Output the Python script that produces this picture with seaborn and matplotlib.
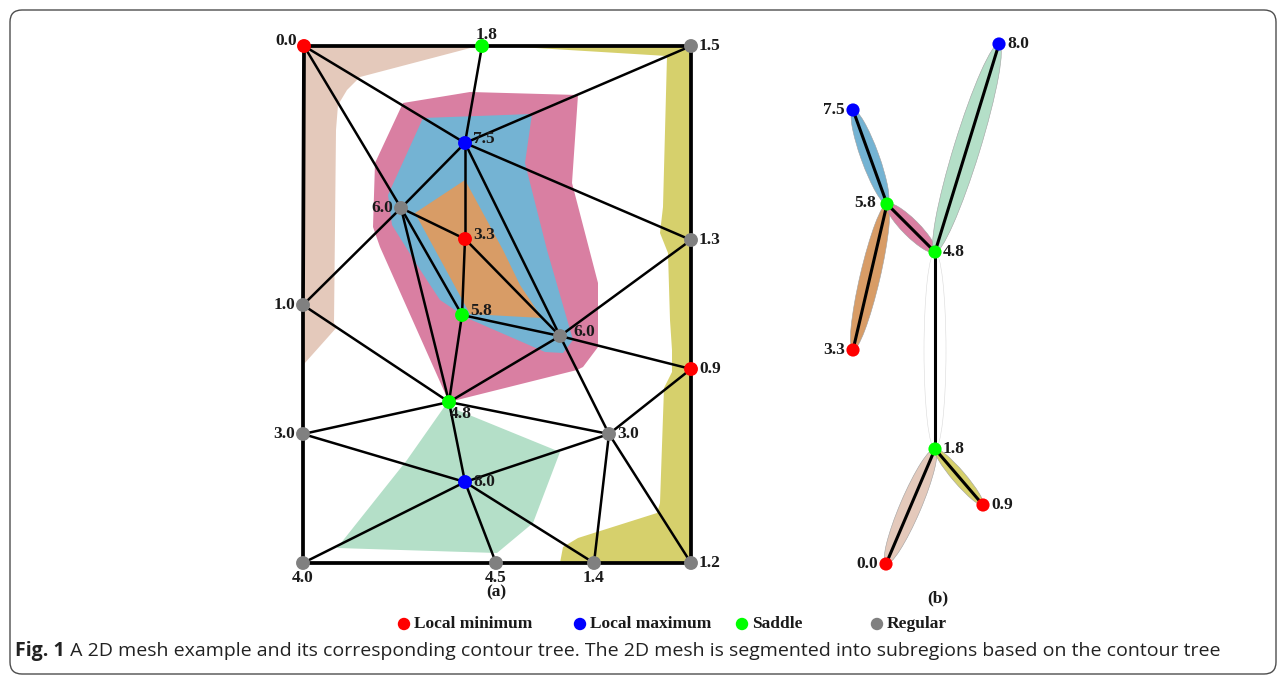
import matplotlib
matplotlib.use("Agg")
import matplotlib.pyplot as plt
import numpy as np
import pandas as pd
import seaborn as sns
from matplotlib.patches import Polygon, Ellipse, FancyBboxPatch
from matplotlib.collections import LineCollection

# ---------------- mesh (a): vertices ----------------
mesh_ids = ["A", "B", "C", "D", "E", "F", "G", "H", "I", "J",
            "K", "L", "M", "N", "O", "P", "Q", "R", "S"]
mesh_x = [304, 482, 691, 465, 401, 465, 691, 303, 462, 560,
          691, 449, 303, 609, 465, 303, 496, 594, 691]
mesh_y = [46, 46, 46, 143, 208, 239, 240, 305, 315, 336,
          369, 402, 434, 434, 482, 563, 563, 563, 563]
mesh_val = [0.0, 1.8, 1.5, 7.5, 6.0, 3.3, 1.3, 1.0, 5.8, 6.0,
            0.9, 4.8, 3.0, 3.0, 8.0, 4.0, 4.5, 1.4, 1.2]
mesh_kind = ["Local minimum", "Saddle", "Regular", "Local maximum", "Regular",
             "Local minimum", "Regular", "Regular", "Saddle", "Regular",
             "Local minimum", "Saddle", "Regular", "Regular", "Local maximum",
             "Regular", "Regular", "Regular", "Regular"]

# mesh edges
boundary_edges = [("A", "B"), ("B", "C"), ("C", "G"), ("G", "K"), ("K", "S"),
                  ("S", "R"), ("R", "Q"), ("Q", "P"), ("P", "M"), ("M", "H"),
                  ("H", "A")]
interior_edges = [("A", "D"), ("A", "E"), ("B", "D"), ("C", "D"), ("D", "E"),
                  ("D", "F"), ("D", "J"), ("D", "G"), ("E", "F"), ("E", "H"),
                  ("E", "I"), ("E", "L"), ("F", "I"), ("F", "J"), ("I", "J"),
                  ("I", "L"), ("H", "L"), ("J", "L"), ("J", "G"), ("J", "K"),
                  ("J", "N"), ("L", "M"), ("L", "N"), ("L", "O"), ("M", "O"),
                  ("N", "O"), ("O", "P"), ("O", "Q"), ("O", "R"), ("N", "R"),
                  ("N", "S"), ("N", "K")]

# segmented subregions of the mesh
beige_x = [304, 478, 360, 347, 338, 336, 334, 337, 304]
beige_y = [46, 46, 77, 90, 105, 130, 323, 327, 364]
yellow_x = [503, 691, 691, 560, 563, 578, 657, 660, 664, 672, 672, 670, 668, 660, 663, 667]
yellow_y = [46, 46, 563, 563, 547, 538, 513, 503, 388, 372, 350, 320, 253, 233, 207, 56]
pink_x = [403, 470, 578, 572, 598, 598, 583, 577, 449, 380, 373, 375]
pink_y = [103, 92, 95, 183, 283, 347, 367, 370, 402, 247, 227, 163]
blue_x = [423, 532, 525, 547, 573, 563, 545, 467, 440, 417, 392, 388]
blue_y = [118, 114, 163, 250, 340, 353, 352, 318, 300, 265, 225, 195]
orange_x = [465, 503, 520, 542, 470, 415]
orange_y = [180, 250, 285, 318, 314, 213]
green_x = [447, 457, 560, 533, 497, 337, 407]
green_y = [403, 410, 452, 523, 553, 548, 460]

# ---------------- contour tree (b) ----------------
tree_x = [999, 853, 887, 935, 853, 935, 983, 886]
tree_y = [44, 110, 204, 252, 350, 449, 505, 564]
tree_val = [8.0, 7.5, 5.8, 4.8, 3.3, 1.8, 0.9, 0.0]
tree_kind = ["Local maximum", "Local maximum", "Saddle", "Saddle",
             "Local minimum", "Saddle", "Local minimum", "Local minimum"]
tree_arcs = [(7.5, 5.8, "blue"), (5.8, 3.3, "orange"), (5.8, 4.8, "pink"),
             (4.8, 8.0, "green"), (4.8, 1.8, "none"), (1.8, 0.0, "beige"),
             (1.8, 0.9, "yellow")]

legend_labels = ["Local minimum", "Local maximum", "Saddle", "Regular"]

# ---------------- styling ----------------
palette = {"Local minimum": "#ff0000", "Local maximum": "#0000ff",
           "Saddle": "#00ff00", "Regular": "#808080"}
region_colors = {"beige": "#e4c9bb", "yellow": "#d6d06c", "pink": "#d97fa2",
                 "blue": "#74b3d3", "orange": "#d89c66", "green": "#b4dfc8",
                 "none": "#ffffff"}
arc_thickness = {"blue": 18, "orange": 20, "pink": 17, "green": 26,
                 "none": 22, "beige": 21, "yellow": 13}
label_side_mesh = ["lu", "a", "r", "ru", "l", "ru", "r", "l", "ru", "rf",
                   "r", "br", "l", "r", "r", "b", "b", "b", "r"]
label_side_tree = ["r", "l", "l2", "r", "l", "r", "r", "l"]
side_offset = {"l": (-8, 0, "right"), "l2": (-11, 1, "right"), "lu": (-7, 5, "right"),
               "r": (8, 0, "left"), "ru": (8, 4, "left"), "rf": (13, 4, "left"),
               "a": (5, 11, "center"), "b": (0, -15, "center"), "br": (1, -12, "left")}

sns.set_theme(style="white")
plt.rcParams["font.family"] = ["Liberation Serif", "DejaVu Serif"]

fig = plt.figure(figsize=(12.84, 6.78), dpi=100)
ax = fig.add_axes([0, 0, 1, 1])

# subregion fills
for px, py, key in [(beige_x, beige_y, "beige"), (yellow_x, yellow_y, "yellow"),
                    (pink_x, pink_y, "pink"), (blue_x, blue_y, "blue"),
                    (orange_x, orange_y, "orange"), (green_x, green_y, "green")]:
    ax.add_patch(Polygon(np.column_stack([px, py]), closed=True,
                         facecolor=region_colors[key], edgecolor="none", zorder=1))

mesh = pd.DataFrame({"id": mesh_ids, "x": mesh_x, "y": mesh_y,
                     "val": mesh_val, "kind": mesh_kind}).set_index("id")

def segs(edges):
    return [[(mesh.loc[a, "x"], mesh.loc[a, "y"]), (mesh.loc[b, "x"], mesh.loc[b, "y"])]
            for a, b in edges]

ax.add_collection(LineCollection(segs(interior_edges), colors="black",
                                 linewidths=1.8, zorder=2))
ax.add_collection(LineCollection(segs(boundary_edges), colors="black",
                                 linewidths=2.7, zorder=2, capstyle="projecting"))

sns.scatterplot(data=mesh.reset_index(), x="x", y="y", hue="kind", palette=palette,
                s=100, edgecolor="none", legend=False, ax=ax, zorder=4)

label_font = dict(fontsize=12.5, fontweight="bold", color="#1a1a1a")
for (x, y, v, side) in zip(mesh_x, mesh_y, mesh_val, label_side_mesh):
    dx, dy, ha = side_offset[side]
    ax.annotate(f"{v:.1f}", (x, y), xytext=(dx, dy), textcoords="offset pixels",
                ha=ha, va="center", zorder=5, **label_font)

# contour tree arcs with their subregion envelopes
tree = pd.DataFrame({"x": tree_x, "y": tree_y, "val": tree_val, "kind": tree_kind})
tpos = {v: (x, y) for v, x, y in zip(tree_val, tree_x, tree_y)}
for a, b, key in tree_arcs:
    (x0, y0), (x1, y1) = tpos[a], tpos[b]
    length = np.hypot(x1 - x0, y1 - y0)
    ang = np.degrees(np.arctan2(y1 - y0, x1 - x0))
    edge = "#d9d9d9" if key == "none" else "#a0a0a0"
    ax.add_patch(Ellipse(((x0 + x1) / 2, (y0 + y1) / 2), length, arc_thickness[key],
                         angle=ang, facecolor=region_colors[key], edgecolor=edge,
                         linewidth=0.4, zorder=1))
    ax.plot([x0, x1], [y0, y1], color="black", lw=2.2, zorder=2,
            solid_capstyle="round")

sns.scatterplot(data=tree, x="x", y="y", hue="kind", palette=palette,
                s=90, edgecolor="none", legend=False, ax=ax, zorder=4)
for (x, y, v, side) in zip(tree_x, tree_y, tree_val, label_side_tree):
    dx, dy, ha = side_offset[side]
    ax.annotate(f"{v:.1f}", (x, y), xytext=(dx, dy), textcoords="offset pixels",
                ha=ha, va="center", zorder=5, **label_font)

# panel tags
ax.text(496, 592, "(a)", ha="center", va="center", **label_font)
ax.text(938, 598, "(b)", ha="center", va="center", **label_font)

# legend row
legend_x = [404, 580, 742, 877]
for lx, lab in zip(legend_x, legend_labels):
    ax.scatter([lx], [624], s=80, color=palette[lab], edgecolor="none", zorder=4)
    ax.text(lx + 10, 624, lab, ha="left", va="center", **label_font)

# caption
cap_family = ["Liberation Sans Narrow", "Open Sans", "DejaVu Sans"]
cap1 = ax.text(15, 651, "Fig. 1", ha="left", va="center", fontsize=14,
               fontweight="bold", family=cap_family, color="#222222")
ax.annotate(" A 2D mesh example and its corresponding contour tree. The 2D mesh is "
            "segmented into subregions based on the contour tree",
            xy=(1, 0.5), xycoords=cap1, ha="left", va="center", fontsize=14,
            family=cap_family, color="#222222")

# rounded frame
ax.add_patch(FancyBboxPatch((10, 10), 1266, 664, boxstyle="round,pad=0,rounding_size=12",
                            facecolor="none", edgecolor="#4d4d4d", linewidth=1.0, zorder=0))

ax.set_xlim(0, 1284)
ax.set_ylim(678, 0)
ax.axis("off")
fig.savefig("out.png", dpi=100, facecolor="white")
